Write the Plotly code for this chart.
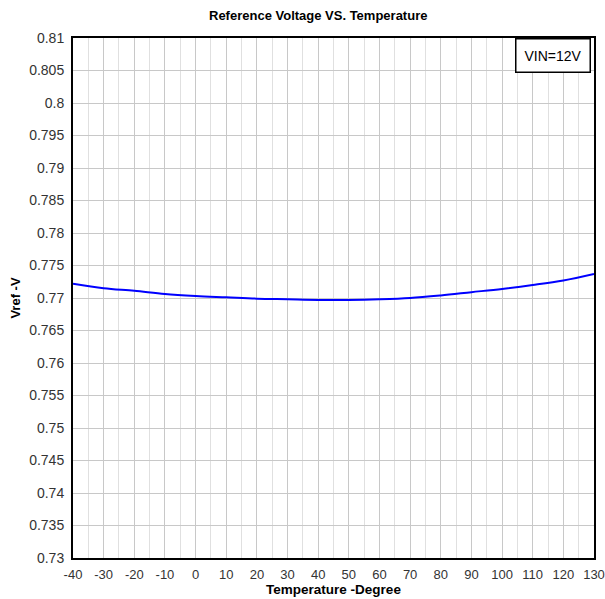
import plotly.graph_objects as go

temps = [-40, -30, -20, -10, 0, 10, 20, 30, 40, 50, 60, 70, 80, 90, 100, 110, 120, 130]
vref = [0.7722, 0.7715, 0.7711, 0.7706, 0.7703, 0.7701, 0.7699, 0.7698, 0.7697,
        0.7697, 0.7698, 0.7700, 0.7704, 0.7709, 0.7714, 0.7720, 0.7727, 0.7737]
x_ticks = list(range(-40, 131, 10))
y_ticks = [round(0.73 + 0.005 * i, 3) for i in range(17)]
y_labels = [("%g" % v) for v in y_ticks]

fig = go.Figure()
fig.add_trace(go.Scatter(x=temps, y=vref, mode="lines", line=dict(color="#0000ff", width=2, shape="spline"),
                         showlegend=False, hoverinfo="skip"))

fig.update_layout(
    width=605, height=599,
    margin=dict(l=73, r=11, t=38, b=41),
    paper_bgcolor="white", plot_bgcolor="white",
    font=dict(family="Arial, Liberation Sans, sans-serif", color="#333333", size=14),
    title=dict(text="<b>Reference Voltage VS. Temperature</b>", x=0.526, xanchor="center", y=0.975, yanchor="middle",
               font=dict(size=13, color="black")),
    xaxis=dict(range=[-40, 130], tickmode="array", tickvals=x_ticks, ticktext=[str(t) for t in x_ticks],
               tickfont=dict(size=13),
               showgrid=True, gridcolor="#c8c8c8", gridwidth=1,
               minor=dict(dtick=5, tick0=-40, showgrid=True, gridcolor="#e0e0e0", gridwidth=1),
               showline=True, linecolor="black", linewidth=2, mirror=True, zeroline=False,
               ticks="", ticklabelstandoff=3, automargin=False,
               title=dict(text="<b>Temperature -Degree</b>", font=dict(size=13.5, color="black"), standoff=0)),
    yaxis=dict(range=[0.73, 0.81], tickmode="array", tickvals=y_ticks, ticktext=y_labels,
               showgrid=True, gridcolor="#c8c8c8", gridwidth=1,
               showline=True, linecolor="black", linewidth=2, mirror=True, zeroline=False,
               ticks="", ticklabelstandoff=4, automargin=False,
               title=dict(text="<b>Vref -V</b>", font=dict(size=13, color="black"), standoff=6)),
    annotations=[dict(text="VIN=12V", xref="paper", yref="paper", x=0.994, y=1.0, xanchor="right", yanchor="top",
                      showarrow=False, bordercolor="black", borderwidth=1.5, bgcolor="white", borderpad=8,
                      font=dict(size=14, color="black"))],
)

fig.write_html("out.html", config={"displayModeBar": False},
               post_script="document.body.style.margin='0';document.body.style.padding='0';")
